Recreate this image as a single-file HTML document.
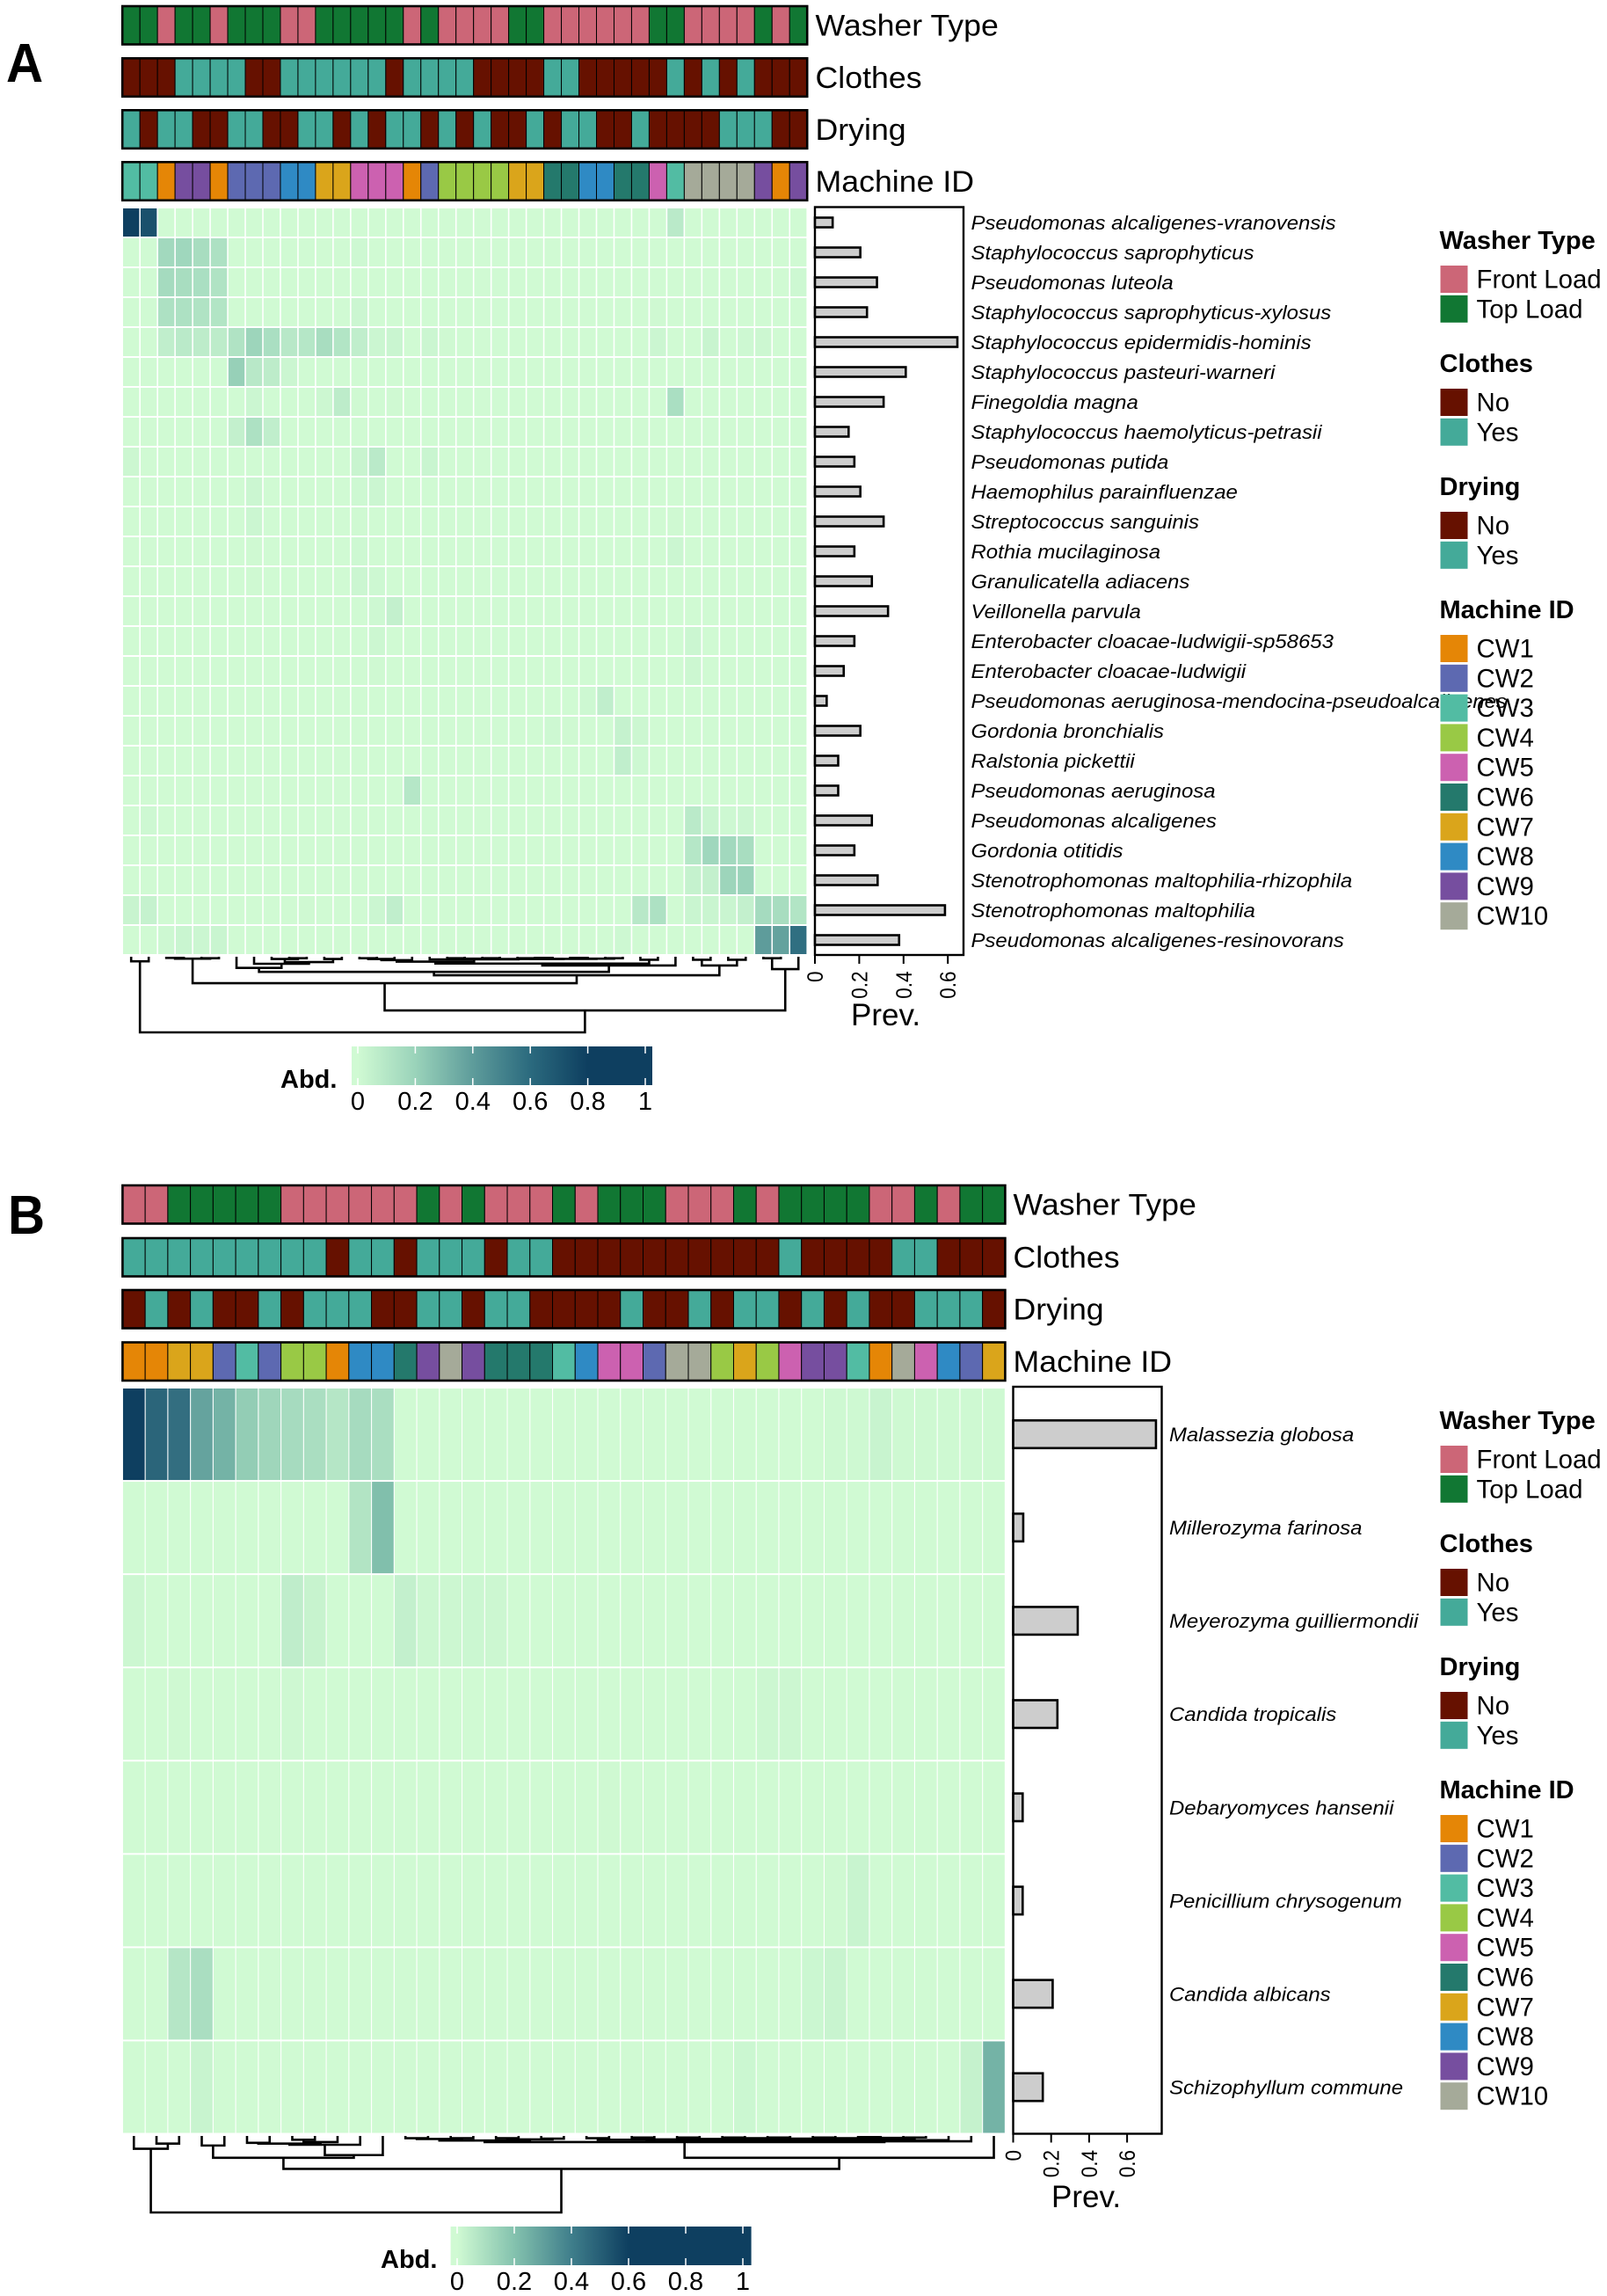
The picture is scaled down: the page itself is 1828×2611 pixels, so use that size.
<!DOCTYPE html>
<html lang="en">
<head>
<meta charset="utf-8">
<title>Washer microbiome heatmaps</title>
<style>
html,body{margin:0;padding:0;background:#fff;width:1828px;height:2611px;overflow:hidden}
svg{display:block;font-family:"Liberation Sans",sans-serif}
</style>
</head>
<body>
<svg id="fig" xmlns="http://www.w3.org/2000/svg" width="1828" height="2611" viewBox="0 0 1828 2611"></svg>
<script>
/* ---------- shared colours and categories ---------- */
const annotationTitles = ['Washer Type','Clothes','Drying','Machine ID'];
const machineIds = ['CW1','CW2','CW3','CW4','CW5','CW6','CW7','CW8','CW9','CW10'];
const machineColors = ['#E58606','#5D69B1','#52BCA3','#99C945','#CC61B0','#24796C','#DAA51B','#2F8AC4','#764E9F','#A5AA99'];
const legendTitles = ['Washer Type','Clothes','Drying','Machine ID'];
const washerLabels = ['Front Load','Top Load'];
const yesNoLabels = ['No','Yes'];
const barTicks = [0,0.2,0.4,0.6];
const abdTicks = [0,0.2,0.4,0.6,0.8,1];
const abdStops = [0,0.2,0.4,0.6,0.8,1];
const abdColorsA = ['#d0fad3','#9ad3ba','#5e9c9b','#2b6a7e','#0e3f60','#0e3f60'];
const abdColorsB = ['#d0fad3','#84c2ae','#3f7e8b','#0e3f60','#0e3f60','#0e3f60'];

/* ---------- panel A data ---------- */
const speciesA = ['Pseudomonas alcaligenes-vranovensis','Staphylococcus saprophyticus','Pseudomonas luteola','Staphylococcus saprophyticus-xylosus','Staphylococcus epidermidis-hominis','Staphylococcus pasteuri-warneri','Finegoldia magna','Staphylococcus haemolyticus-petrasii','Pseudomonas putida','Haemophilus parainfluenzae','Streptococcus sanguinis','Rothia mucilaginosa','Granulicatella adiacens','Veillonella parvula','Enterobacter cloacae-ludwigii-sp58653','Enterobacter cloacae-ludwigii','Pseudomonas aeruginosa-mendocina-pseudoalcaligenes','Gordonia bronchialis','Ralstonia pickettii','Pseudomonas aeruginosa','Pseudomonas alcaligenes','Gordonia otitidis','Stenotrophomonas maltophilia-rhizophila','Stenotrophomonas maltophilia','Pseudomonas alcaligenes-resinovorans'];
const prevA = [.08,.205,.28,.235,.643,.41,.31,.152,.178,.205,.31,.178,.257,.33,.178,.13,.053,.205,.105,.105,.257,.178,.283,.587,.38];
const washerA = 'T T F T T F T T T F F T T T T T F T F F F F T T F F F F F F T T F F F F T F T'.split(' ');
const clothesA = 'N N N Y Y Y Y N N Y Y Y Y Y Y N Y Y Y Y N N N N Y Y N N N N N Y N Y N Y N N N'.split(' ');
const dryingA = 'Y N Y Y N N Y Y N N Y Y N Y N Y Y N Y N Y N N Y N Y Y N N Y N N N N Y Y Y N N'.split(' ');
const machineA = 'CW3 CW3 CW1 CW9 CW9 CW1 CW2 CW2 CW2 CW8 CW8 CW7 CW7 CW5 CW5 CW5 CW1 CW2 CW4 CW4 CW4 CW4 CW7 CW7 CW6 CW6 CW8 CW8 CW6 CW6 CW5 CW3 CW10 CW10 CW10 CW10 CW9 CW1 CW9'.split(' ');
const heatA = [
[.85,.72,0,0,0,0,0,0,0,0, 0,0,0,0,0,0,0,0,0,0, 0,0,0,0,0,0,0,0,0,0, 0,.08,0,0,0,0,0,0,0],
[0,0,.17,.18,.15,.13,0,0,0,0, 0,0,0,.01,0,0,0,0,0,0, 0,0,0,0,0,0,0,0,0,0, 0,0,0,0,0,0,0,0,0],
[0,0,.16,.15,.14,.12,0,0,0,0, 0,0,0,0,0,0,0,0,0,0, 0,0,0,0,0,0,0,0,0,0, 0,0,0,0,0,0,0,0,.01],
[0,0,.13,.13,.12,.11,0,0,0,0, 0,0,0,.02,0,0,0,0,0,0, 0,0,0,0,0,0,0,0,0,0, .005,0,0,0,0,0,0,0,0],
[0,0,.06,.08,.07,.07,.12,.19,.14,.09, .1,.15,.11,.06,.02,.025,0,.02,.005,0, 0,0,0,0,0,0,0,0,0,0, .02,0,0,.03,0,.01,.015,0,0],
[0,0,0,0,0,0,.21,.09,.07,.02, 0,0,0,0,0,0,0,0,0,0, 0,0,0,0,0,0,0,0,0,0, 0,0,0,0,0,0,0,0,0],
[0,0,0,0,0,0,0,.02,0,0, 0,.015,.07,.005,0,.005,0,0,0,0, 0,0,0,0,0,0,0,0,0,0, 0,.14,0,0,0,0,0,0,0],
[0,0,0,0,0,0,.05,.13,.06,0, 0,0,0,0,0,0,0,0,0,0, 0,0,0,0,0,0,0,0,0,0, 0,0,0,0,0,0,0,0,0],
[.015,0,0,0,0,0,0,0,0,0, 0,0,0,.03,.08,0,0,.025,0,0, 0,0,0,0,0,0,0,0,0,0, 0,0,0,0,0,0,0,0,0],
[0,0,0,0,0,0,0,.02,0,0, 0,0,0,.01,.02,0,0,0,0,0, 0,0,0,0,0,0,0,0,0,0, 0,0,0,0,0,0,0,0,0],
[0,0,0,0,0,0,0,.02,0,0, 0,0,0,.005,0,0,0,0,0,0, 0,0,0,0,0,0,0,0,0,0, 0,.005,0,0,0,0,0,0,0],
[0,0,0,0,0,0,0,.005,0,0, 0,0,0,.01,0,0,0,0,0,0, 0,0,0,0,0,0,0,0,0,0, 0,.02,0,0,0,0,0,0,0],
[0,0,0,0,0,0,0,.005,0,0, 0,0,0,.02,.012,0,0,0,0,0, 0,0,0,0,0,0,0,0,0,0, 0,0,0,0,0,0,0,0,0],
[0,0,0,0,0,0,0,0,0,0, 0,0,0,0,.012,.05,0,0,0,0, 0,0,0,0,0,0,0,0,0,0, 0,0,0,0,0,0,0,0,0],
[0,0,0,0,0,0,0,0,0,0, 0,0,0,0,.015,0,0,0,0,0, 0,0,0,0,0,0,0,0,0,0, 0,0,.02,0,0,0,0,0,0],
[0,0,0,0,0,0,0,0,0,0, 0,0,0,0,.005,0,0,0,0,0, 0,0,0,0,0,0,0,0,0,0, 0,0,.015,0,0,0,0,0,0],
[0,0,0,0,0,0,0,0,0,0, 0,0,0,0,0,0,0,0,0,0, 0,0,0,0,0,0,.012,.06,0,0, 0,0,0,0,0,0,0,0,0],
[0,0,0,0,0,0,0,0,0,0, 0,0,0,0,0,0,0,0,0,0, 0,0,0,0,.012,.005,0,0,.04,.015, 0,0,0,0,0,0,0,0,0],
[0,0,0,0,0,0,0,0,0,0, 0,0,0,0,0,0,0,0,0,0, 0,0,0,0,0,0,0,0,.06,.01, 0,0,0,0,0,0,0,0,0],
[0,0,0,0,0,0,0,0,0,0, 0,0,0,0,0,0,.1,0,0,0, 0,0,0,0,0,0,0,0,0,0, 0,0,0,0,0,0,0,0,0],
[0,.012,0,0,0,0,0,0,0,0, 0,0,0,0,0,0,0,0,0,0, 0,0,0,0,0,0,0,0,0,0, 0,0,.08,.025,.012,.02,0,0,0],
[0,0,0,0,0,0,0,0,0,0, 0,0,0,0,0,0,0,0,0,0, 0,0,0,0,0,0,0,0,0,0, 0,0,.1,.18,.17,.15,0,0,0],
[0,0,0,0,0,0,0,0,0,0, 0,0,0,0,0,0,0,0,0,0, 0,0,0,0,0,0,0,0,0,0, 0,0,.04,.05,.19,.2,0,0,0],
[.03,.04,0,0,0,0,0,0,0,0, .005,0,0,0,.02,.06,0,0,0,0, 0,0,0,0,0,0,0,0,0,.09, .13,0,.025,.025,.025,.05,.16,.15,.11],
[0,0,.012,.025,.02,.025,0,0,0,0, 0,0,0,0,0,0,0,0,0,0, 0,0,0,0,0,0,0,0,.01,0, 0,0,0,0,0,0,.4,.38,.58]
];
const dendrogramA = [1.0,
  [.06,0,1],
  [.71,
    [.35,
      [.025,[.015,2,3],[.02,4,5]],
      [.245,
        [.2,
          [.148,6,[.093,7,[.07,[.03,8,[.02,9,10]],[.03,11,12]]]],
          [.116,
            [.09,
              [.065,
                [.045,[.03,[.02,13,14],15],16],
                [.035,17,[.03,[.025,[.02,18,19],[.02,20,21]],[.028,[.02,22,[.015,23,24]],[.025,[.015,25,26],[.02,27,28]]]]]
              ],
              [.04,29,30]
            ],
            31
          ]
        ],
        [.116,[.04,32,33],[.04,34,35]]
      ]
    ],
    [.163,[.02,36,37],38]
  ]
];

/* ---------- panel B data ---------- */
const speciesB = ['Malassezia globosa','Millerozyma farinosa','Meyerozyma guilliermondii','Candida tropicalis','Debaryomyces hansenii','Penicillium chrysogenum','Candida albicans','Schizophyllum commune'];
const prevB = [.752,.053,.34,.233,.05,.05,.208,.156];
const washerB = 'F F T T T T T F F F F F F T F T F F F T F T T T F F F T F T T T T F F T F T T'.split(' ');
const clothesB = 'Y Y Y Y Y Y Y Y Y N Y Y N Y Y Y N Y Y N N N N N N N N N N Y N N N N Y Y N N N'.split(' ');
const dryingB = 'N Y N Y N N Y N Y Y Y N N Y Y N Y Y N N N N Y N N Y N Y Y N Y N Y N N Y Y Y N'.split(' ');
const machineB = 'CW1 CW1 CW7 CW7 CW2 CW3 CW2 CW4 CW4 CW1 CW8 CW8 CW6 CW9 CW10 CW9 CW6 CW6 CW6 CW3 CW8 CW5 CW5 CW2 CW10 CW10 CW4 CW7 CW4 CW5 CW9 CW9 CW3 CW1 CW10 CW5 CW8 CW2 CW7'.split(' ');
const heatB = [
[.6,.48,.45,.29,.245,.16,.13,.11,.1,.07, .11,.1,0,0,0,0,0,0,0,0, 0,0,0,0,0,0,0,0,0,0, 0,.005,.005,.02,.005,.005,.005,.005,.005],
[0,0,0,0,0,0,0,0,0,0, .08,.21,0,0,0,0,0,0,0,0, 0,0,0,0,0,0,0,0,0,0, 0,0,0,0,0,0,0,0,0],
[.01,0,0,0,0,0,0,.045,.025,0, 0,0,.035,.01,.01,.012,.01,0,0,0, 0,0,0,0,0,0,0,0,0,0, 0,0,0,0,0,0,0,0,0],
[0,0,.003,0,0,0,0,.006,0,0, 0,0,0,0,0,0,0,0,0,0, 0,0,0,0,0,0,0,0,.01,.01, 0,0,0,0,0,0,0,0,0],
[0,0,0,0,0,0,0,0,0,0, 0,0,0,0,0,0,0,0,0,0, 0,.003,0,0,0,0,0,0,0,0, 0,0,0,0,0,0,0,0,0],
[0,0,0,0,0,0,0,0,0,0, 0,0,0,0,0,0,0,0,0,0, 0,0,0,0,0,0,0,0,0,0, 0,.003,.02,0,0,0,0,0,0],
[0,0,.07,.1,0,0,0,0,0,0, 0,0,0,0,0,0,0,0,0,0, 0,0,0,0,0,0,0,0,0,0, .012,.02,0,0,0,0,0,0,0],
[0,0,0,.02,0,0,0,0,0,0, 0,0,0,0,0,0,0,0,0,0, 0,0,0,0,0,0,0,.012,0,0, 0,0,0,0,0,0,0,.03,.245]
];
const dendrogramB = [1.0,
  [.167,0,[.1,1,2]],
  [.43,
    [.285,
      [.125,3,4],
      [.25,[.115,[.1,[.09,5,6],[.08,[.05,7,8],9]],10],11]
    ],
    [.285,
      [.08,
        [.06,[.04,[.03,12,13],[.03,14,15]],[.045,[.03,16,17],[.035,18,19]]],
        [.07,
          [.055,
            [.05,[.03,20,21],[.045,[.02,22,23],[.04,[.02,24,25],
              [.035,[.03,[.02,26,27],[.02,28,29]],[.03,[.02,30,31],[.025,[.015,32,33],[.02,34,35]]]]
            ]]],
            36
          ],
          37
        ]
      ],
      38
    ]
  ]
];

/* ---------- drawing helpers ---------- */
const NS = 'http://www.w3.org/2000/svg';
const fig = document.getElementById('fig');
function mk(parent, tag, attrs){
  const el = document.createElementNS(NS, tag);
  for (const k in attrs) el.setAttribute(k, attrs[k]);
  parent.appendChild(el);
  return el;
}
function txt(parent, str, x, y, size, sx, extra){
  const el = mk(parent, 'text', Object.assign({transform:'translate('+x+' '+y+') scale('+sx+' 1)', 'font-size':size, fill:'#000'}, extra||{}));
  el.textContent = str;
  return el;
}
function hex(c){ return [parseInt(c.slice(1,3),16),parseInt(c.slice(3,5),16),parseInt(c.slice(5,7),16)]; }
function colorOf(v, stops, colors){
  if (v <= stops[0]) return colors[0];
  for (let i = 1; i < stops.length; i++){
    if (v <= stops[i]){
      const t = (v-stops[i-1])/(stops[i]-stops[i-1]);
      const a = hex(colors[i-1]), b = hex(colors[i]);
      return 'rgb('+a.map((q,j)=>Math.round(q+(b[j]-q)*t)).join(',')+')';
    }
  }
  return colors[colors.length-1];
}
const annotationColor = {
  washer:{F:'#CC6677',T:'#117733'},
  binary:{N:'#661100',Y:'#44AA99'}
};
function machineColor(id){ return machineColors[machineIds.indexOf(id)]; }

function drawAnnotation(g, values, colorFn, name, x0, cw, top, h){
  const row = mk(g,'g',{});
  
  
  values.forEach((v,i)=>{
    const c = mk(row,'rect',{x:x0+i*cw,y:top,width:cw,height:h,fill:colorFn(v),stroke:'#000','stroke-width':1});
    
    
  });
  const frame = mk(row,'rect',{x:x0,y:top,width:cw*values.length,height:h,fill:'none',stroke:'#000','stroke-width':2.6});
  
  
}

function drawDendrogram(g, node, xOf, yOf){
  if (typeof node === 'number') return {x:xOf(node), y:yOf(0)};
  const a = drawDendrogram(g, node[1], xOf, yOf);
  const b = drawDendrogram(g, node[2], xOf, yOf);
  const y = yOf(node[0]);
  const p = mk(g,'path',{d:'M'+a.x+' '+a.y+'V'+y+'H'+b.x+'V'+b.y,fill:'none',stroke:'#000','stroke-width':2.6});
  
  
  return {x:(a.x+b.x)/2, y:y};
}

function drawLegend(g, top){
  const titleY = [top-19, top+121, top+261, top+401];
  const swatchTop = [top, top+140, top+280, top+420];
  const groups = [
    {labels:washerLabels, colors:[annotationColor.washer.F, annotationColor.washer.T]},
    {labels:yesNoLabels, colors:[annotationColor.binary.N, annotationColor.binary.Y]},
    {labels:yesNoLabels, colors:[annotationColor.binary.N, annotationColor.binary.Y]},
    {labels:machineIds, colors:machineColors}
  ];
  groups.forEach((grp,k)=>{
    const lg = mk(g,'g',{});
    
    
    const t = txt(lg, legendTitles[k], 1637.5, titleY[k], 29, 1.0, {'font-weight':'bold'});
    
    
    grp.labels.forEach((lab,i)=>{
      const y = swatchTop[k]+i*33.8;
      const s = mk(lg,'rect',{x:1638.5,y:y,width:31,height:31,fill:grp.colors[i]});
      
      
      const e = txt(lg, lab, 1679.5, y+25.5, 29.4, 1.0);
      
      
    });
  });
}

function drawPanel(p){
  const g = mk(fig,'g',{});
  
  

  const letter = txt(g, p.letter, p.letterX, p.letterY, 62, 0.94, {'font-weight':'bold'});
  
  

  const nCols = p.washer.length;
  const cw = (p.right-p.left)/nCols;
  const rh = (p.bottom-p.top)/p.heat.length;
  const xCol = i => p.left+i*cw;
  const yRow = r => p.top+r*rh;

  /* annotation rows */
  const annVals = [p.washer,p.clothes,p.drying,p.machine];
  const annFns = [v=>annotationColor.washer[v], v=>annotationColor.binary[v], v=>annotationColor.binary[v], machineColor];
  const annNames = ['washer-type','clothes','drying','machine-id'];
  annVals.forEach((vals,k)=>{
    drawAnnotation(g, vals, annFns[k], annNames[k], p.left, cw, p.annTop[k], 43.5);
    const t = txt(g, annotationTitles[k], p.annLabelX, p.annTop[k]+33.5, 34, 1.05);
    
    
  });

  /* heatmap */
  const hm = mk(g,'g',{});
  
  
  p.heat.forEach((row,r)=>{
    row.forEach((v,i)=>{
      const c = mk(hm,'rect',{x:xCol(i)+p.gapX/2,y:yRow(r)+1,width:cw-p.gapX,height:rh-2,fill:colorOf(v,abdStops,p.colors)});
      
      
    });
  });

  /* prevalence bars */
  const bg = mk(g,'g',{});
  
  
  const xPrev = v => p.barLeft+v*p.barScale;
  const frame = mk(bg,'rect',{x:p.barLeft,y:p.barTop,width:p.barRight-p.barLeft,height:p.bottom-p.barTop,fill:'#fff',stroke:'#000','stroke-width':2.4});
  
  
  p.prev.forEach((v,r)=>{
    const cy = yRow(r)+rh/2;
    const b = mk(bg,'rect',{x:xPrev(0),y:cy-p.barH/2,width:xPrev(v)-xPrev(0),height:p.barH,fill:'#cdcdcd',stroke:'#000','stroke-width':2.6});
    
    
  });
  barTicks.forEach(t=>{
    const x = xPrev(t);
    const l = mk(bg,'line',{x1:x,x2:x,y1:p.bottom,y2:p.bottom+10,stroke:'#000','stroke-width':2});
    
    
    const e = mk(bg,'text',{transform:'translate('+(x+9)+' '+(p.bottom+18.5)+') scale(1.11 1) rotate(-90)','font-size':22.5,'text-anchor':'end',fill:'#000'});
    e.textContent = String(t);
    
    
  });
  const pv = txt(bg, 'Prev.', p.prevLabelX, p.prevLabelY, 35, 1.0);
  
  

  /* species labels */
  p.species.forEach((s,r)=>{
    const e = txt(g, s, p.speciesX, yRow(r)+rh/2+8, 22.6, 1.06, {'font-style':'italic'});
    
    
  });

  /* dendrogram */
  const dg = mk(g,'g',{});
  
  
  drawDendrogram(dg, p.dendrogram, i=>xCol(i)+cw/2, h=>p.dendBase+h*p.dendScale);

  /* colour bar */
  const xAbd = v => p.cbZero+v*p.cbScale;
  const defs = mk(g,'defs',{});
  const lin = mk(defs,'linearGradient',{id:p.gradId,gradientUnits:'userSpaceOnUse',x1:xAbd(0),x2:xAbd(1),y1:0,y2:0});
  abdStops.forEach((s,i)=>{
    mk(lin,'stop',{offset:s,'stop-color':p.colors[i]});
  });
  const cb = mk(g,'g',{});
  
  
  const bar = mk(cb,'rect',{x:p.cbLeft,y:p.cbTop,width:p.cbRight-p.cbLeft,height:44,fill:'url(#'+p.gradId+')'});
  
  
  abdTicks.forEach(t=>{
    const x = xAbd(t);
    const l1 = mk(cb,'line',{x1:x,x2:x,y1:p.cbTop,y2:p.cbTop+8,stroke:'#fff','stroke-width':1.5});
    
    
    const l2 = mk(cb,'line',{x1:x,x2:x,y1:p.cbTop+36,y2:p.cbTop+44,stroke:'#fff','stroke-width':1.5});
    
    
    const e = txt(cb, String(t), x, p.cbTop+72, 28.5, 1.02, {'text-anchor':'middle'});
    
    
  });
  const ab = txt(cb, 'Abd.', p.abdX, p.abdY, 29, 1.0, {'font-weight':'bold'});
  
  

  /* legends (drawn last so swatches overlap long species labels) */
  const lg = mk(g,'g',{});
  
  
  drawLegend(lg, p.legendTop);
}

drawPanel({
  name:'panel-a', letter:'A', letterX:7, letterY:93,
  washer:washerA, clothes:clothesA, drying:dryingA, machine:machineA,
  heat:heatA, prev:prevA, species:speciesA, dendrogram:dendrogramA, colors:abdColorsA,
  left:139.2, right:918.2, top:236, bottom:1086, gapX:1.6,
  annTop:[7,66.3,125.3,184.3], annLabelX:927.5,
  barLeft:927, barRight:1096, barTop:235.5, barScale:252, barH:11,
  prevLabelX:968, prevLabelY:1166, speciesX:1104.5,
  dendBase:1088, dendScale:86,
  gradId:'gradA', cbLeft:400, cbRight:742, cbTop:1190, cbZero:407, cbScale:327,
  abdX:319, abdY:1237, legendTop:302
});
drawPanel({
  name:'panel-b', letter:'B', letterX:9, letterY:1403,
  washer:washerB, clothes:clothesB, drying:dryingB, machine:machineB,
  heat:heatB, prev:prevB, species:speciesB, dendrogram:dendrogramB, colors:abdColorsB,
  left:139.4, right:1143.4, top:1578, bottom:2426.5, gapX:1.1,
  annTop:[1348,1408,1467,1526.5], annLabelX:1152.5,
  barLeft:1152.5, barRight:1321.5, barTop:1577, barScale:216, barH:31.5,
  prevLabelX:1196, prevLabelY:2510, speciesX:1330,
  dendBase:2429, dendScale:87,
  gradId:'gradB', cbLeft:512.6, cbRight:854.6, cbTop:2532, cbZero:520, cbScale:325,
  abdX:433, abdY:2579, legendTop:1644
});
</script>
</body>
</html>
